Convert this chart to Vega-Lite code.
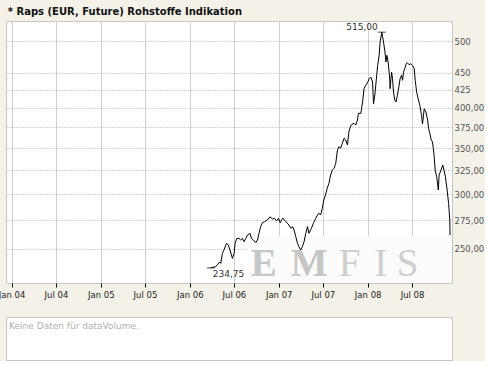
{
  "$schema": "https://vega.github.io/schema/vega-lite/v6.json",
  "background": "#f4f1e8",
  "padding": {"left": -3, "top": 6, "right": 0, "bottom": 0},
  "title": {"text": "* Raps (EUR, Future) Rohstoffe Indikation", "anchor": "start", "font": "DejaVu Sans", "fontSize": 10, "fontWeight": "bold", "color": "#111111", "offset": 4, "dx": 10},
  "config": {
    "view": {"stroke": "#c6c6c6", "fill": "#ffffff"},
    "font": "DejaVu Sans"
  },
  "bounds": "flush",
  "spacing": 34,
  "datasets": {
    "raps": [
      {"date": "2006-03-28", "value": 234.75},
      {"date": "2006-04-06", "value": 235.2},
      {"date": "2006-04-17", "value": 235.6},
      {"date": "2006-04-24", "value": 237.2},
      {"date": "2006-05-04", "value": 239.4},
      {"date": "2006-05-08", "value": 238.3},
      {"date": "2006-05-15", "value": 246.4},
      {"date": "2006-05-21", "value": 249.1},
      {"date": "2006-06-01", "value": 254.8},
      {"date": "2006-06-08", "value": 253.3},
      {"date": "2006-06-15", "value": 249.1},
      {"date": "2006-06-25", "value": 242.3},
      {"date": "2006-07-02", "value": 246.4},
      {"date": "2006-07-06", "value": 254.8},
      {"date": "2006-07-13", "value": 259.0},
      {"date": "2006-07-22", "value": 259.0},
      {"date": "2006-07-29", "value": 257.6},
      {"date": "2006-08-05", "value": 259.0},
      {"date": "2006-08-12", "value": 256.1},
      {"date": "2006-08-19", "value": 259.0},
      {"date": "2006-08-26", "value": 261.9},
      {"date": "2006-09-05", "value": 263.4},
      {"date": "2006-09-11", "value": 259.0},
      {"date": "2006-09-19", "value": 257.6},
      {"date": "2006-09-29", "value": 255.3},
      {"date": "2006-10-06", "value": 257.6},
      {"date": "2006-10-12", "value": 263.4},
      {"date": "2006-10-19", "value": 269.3},
      {"date": "2006-10-26", "value": 272.8},
      {"date": "2006-11-04", "value": 273.8},
      {"date": "2006-11-15", "value": 275.3},
      {"date": "2006-11-26", "value": 278.4},
      {"date": "2006-12-06", "value": 276.3},
      {"date": "2006-12-15", "value": 276.9},
      {"date": "2006-12-23", "value": 274.7},
      {"date": "2006-12-31", "value": 276.9},
      {"date": "2007-01-07", "value": 272.8},
      {"date": "2007-01-17", "value": 276.9},
      {"date": "2007-01-23", "value": 276.0},
      {"date": "2007-01-30", "value": 273.8},
      {"date": "2007-02-09", "value": 271.7},
      {"date": "2007-02-20", "value": 267.8},
      {"date": "2007-02-27", "value": 269.3},
      {"date": "2007-03-05", "value": 266.3},
      {"date": "2007-03-12", "value": 260.4},
      {"date": "2007-03-19", "value": 254.8},
      {"date": "2007-03-25", "value": 251.9},
      {"date": "2007-04-01", "value": 249.1},
      {"date": "2007-04-08", "value": 251.9},
      {"date": "2007-04-15", "value": 256.1},
      {"date": "2007-04-22", "value": 263.4},
      {"date": "2007-04-29", "value": 269.3},
      {"date": "2007-05-05", "value": 263.4},
      {"date": "2007-05-15", "value": 267.8},
      {"date": "2007-05-23", "value": 272.3},
      {"date": "2007-06-02", "value": 276.9},
      {"date": "2007-06-09", "value": 280.0},
      {"date": "2007-06-15", "value": 281.6},
      {"date": "2007-06-22", "value": 280.0},
      {"date": "2007-06-29", "value": 286.3},
      {"date": "2007-07-05", "value": 294.3},
      {"date": "2007-07-12", "value": 299.3},
      {"date": "2007-07-19", "value": 306.0},
      {"date": "2007-07-26", "value": 311.2},
      {"date": "2007-08-02", "value": 319.9},
      {"date": "2007-08-09", "value": 325.2},
      {"date": "2007-08-16", "value": 327.1},
      {"date": "2007-08-23", "value": 332.6},
      {"date": "2007-08-30", "value": 347.7},
      {"date": "2007-09-05", "value": 351.5},
      {"date": "2007-09-12", "value": 349.7},
      {"date": "2007-09-19", "value": 355.6},
      {"date": "2007-09-26", "value": 361.5},
      {"date": "2007-10-03", "value": 359.5},
      {"date": "2007-10-10", "value": 353.5},
      {"date": "2007-10-16", "value": 369.6},
      {"date": "2007-10-23", "value": 376.6},
      {"date": "2007-10-30", "value": 379.2},
      {"date": "2007-11-06", "value": 380.1},
      {"date": "2007-11-13", "value": 377.9},
      {"date": "2007-11-20", "value": 384.2},
      {"date": "2007-11-24", "value": 392.9},
      {"date": "2007-12-04", "value": 392.9},
      {"date": "2007-12-11", "value": 408.0},
      {"date": "2007-12-17", "value": 426.5},
      {"date": "2007-12-24", "value": 431.4},
      {"date": "2008-01-02", "value": 436.2},
      {"date": "2008-01-07", "value": 440.9},
      {"date": "2008-01-14", "value": 443.5},
      {"date": "2008-01-21", "value": 436.2},
      {"date": "2008-01-25", "value": 405.7},
      {"date": "2008-01-31", "value": 419.5},
      {"date": "2008-02-07", "value": 446.0},
      {"date": "2008-02-11", "value": 461.1},
      {"date": "2008-02-17", "value": 476.7},
      {"date": "2008-02-21", "value": 498.3},
      {"date": "2008-02-28", "value": 515.0},
      {"date": "2008-03-06", "value": 498.3},
      {"date": "2008-03-12", "value": 482.0},
      {"date": "2008-03-16", "value": 466.2},
      {"date": "2008-03-20", "value": 476.7},
      {"date": "2008-03-25", "value": 466.2},
      {"date": "2008-03-31", "value": 443.5},
      {"date": "2008-04-02", "value": 426.5},
      {"date": "2008-04-08", "value": 450.9},
      {"date": "2008-04-12", "value": 440.9},
      {"date": "2008-04-16", "value": 421.8},
      {"date": "2008-04-21", "value": 410.8},
      {"date": "2008-04-26", "value": 408.0},
      {"date": "2008-05-02", "value": 417.2},
      {"date": "2008-05-09", "value": 431.4},
      {"date": "2008-05-13", "value": 440.9},
      {"date": "2008-05-19", "value": 446.0},
      {"date": "2008-05-23", "value": 438.6},
      {"date": "2008-05-27", "value": 450.9},
      {"date": "2008-06-01", "value": 455.9},
      {"date": "2008-06-07", "value": 463.6},
      {"date": "2008-06-12", "value": 465.1},
      {"date": "2008-06-19", "value": 462.0},
      {"date": "2008-06-26", "value": 463.6},
      {"date": "2008-07-03", "value": 461.1},
      {"date": "2008-07-10", "value": 455.9},
      {"date": "2008-07-14", "value": 438.6},
      {"date": "2008-07-20", "value": 421.8},
      {"date": "2008-07-26", "value": 412.5},
      {"date": "2008-08-02", "value": 403.5},
      {"date": "2008-08-09", "value": 390.3},
      {"date": "2008-08-13", "value": 379.2},
      {"date": "2008-08-20", "value": 399.0},
      {"date": "2008-08-27", "value": 394.6},
      {"date": "2008-09-03", "value": 384.2},
      {"date": "2008-09-07", "value": 373.3},
      {"date": "2008-09-12", "value": 367.6},
      {"date": "2008-09-18", "value": 359.5},
      {"date": "2008-09-23", "value": 357.4},
      {"date": "2008-09-30", "value": 340.0},
      {"date": "2008-10-04", "value": 325.2},
      {"date": "2008-10-10", "value": 318.1},
      {"date": "2008-10-17", "value": 304.3},
      {"date": "2008-10-20", "value": 319.9},
      {"date": "2008-10-28", "value": 325.2},
      {"date": "2008-11-04", "value": 330.7},
      {"date": "2008-11-09", "value": 325.2},
      {"date": "2008-11-15", "value": 318.0},
      {"date": "2008-11-22", "value": 304.3},
      {"date": "2008-11-28", "value": 291.1},
      {"date": "2008-12-03", "value": 275.0},
      {"date": "2008-12-04", "value": 261.9}
    ],
    "extremes": [
      {"date": "2008-02-28", "value": 515.0, "label": "515,00", "kind": "max"},
      {"date": "2006-03-28", "value": 234.75, "label": "234,75", "kind": "min"}
    ],
    "volume": [
      {"msg": "Keine Daten für dataVolume."}
    ]
  },
  "vconcat": [
    {
      "width": 446,
      "height": 262,
      "layer": [
        {
          "data": {"name": "raps"},
          "mark": {"type": "line", "color": "#000000", "strokeWidth": 1, "opacity": 0},
          "encoding": {
            "x": {
              "field": "date", "type": "temporal",
              "scale": {"type": "utc", "nice": false, "domain": [{"year": 2003, "month": 12, "date": 9, "utc": true}, {"year": 2008, "month": 12, "date": 12, "utc": true}]},
              "axis": {
                "title": null,
                "values": [
                  {"year": 2004, "month": 1, "date": 1, "utc": true},
                  {"year": 2004, "month": 7, "date": 1, "utc": true},
                  {"year": 2005, "month": 1, "date": 1, "utc": true},
                  {"year": 2005, "month": 7, "date": 1, "utc": true},
                  {"year": 2006, "month": 1, "date": 1, "utc": true},
                  {"year": 2006, "month": 7, "date": 1, "utc": true},
                  {"year": 2007, "month": 1, "date": 1, "utc": true},
                  {"year": 2007, "month": 7, "date": 1, "utc": true},
                  {"year": 2008, "month": 1, "date": 1, "utc": true},
                  {"year": 2008, "month": 7, "date": 1, "utc": true}
                ],
                "labelExpr": "utcFormat(datum.value, '%b %y')",
                "grid": true, "gridColor": "#cfcfcf", "gridWidth": 1,
                "domain": false,
                "ticks": true, "tickColor": "#000000", "tickSize": 4, "tickWidth": 1,
                "labelFont": "DejaVu Sans", "labelFontSize": 8.5, "labelColor": "#222222",
                "labelPadding": 3, "labelFlush": false, "labelOverlap": false
              }
            },
            "y": {
              "field": "value", "type": "quantitative",
              "scale": {"type": "log", "nice": false, "domain": [223.2, 534.5]},
              "axis": {
                "title": null, "orient": "right",
                "values": [250, 275, 300, 325, 350, 375, 400, 425, 450, 500],
                "labelExpr": "datum.value >= 425 ? format(datum.value, 'd') : replace(format(datum.value, '.2f'), '.', ',')",
                "grid": true, "gridColor": "#a8a8a8", "gridDash": [1, 2], "gridWidth": 1,
                "domain": false, "ticks": false,
                "labelFont": "DejaVu Sans", "labelFontSize": 8.5, "labelColor": "#555555",
                "labelPadding": 2, "labelFlush": false, "labelOverlap": false
              }
            }
          }
        },
        {
          "data": {"values": [{}]},
          "mark": {"type": "rect", "fill": "#fbfbfb"},
          "encoding": {
            "x": {"datum": {"year": 2006, "month": 8, "date": 28, "utc": true}, "type": "temporal"},
            "x2": {"datum": {"year": 2008, "month": 12, "date": 12, "utc": true}},
            "y": {"datum": 261, "type": "quantitative"},
            "y2": {"datum": 223.2}
          }
        },
        {
          "data": {"values": [{}]},
          "mark": {"type": "text", "font": "Liberation Serif", "fontSize": 39, "fontWeight": "bold", "color": "#c6c6c6", "baseline": "alphabetic", "align": "center"},
          "encoding": {
            "x": {"datum": {"year": 2006, "month": 11, "date": 1, "utc": true}, "type": "temporal"},
            "y": {"datum": 228.4, "type": "quantitative"},
            "text": {"value": "E"}
          }
        },
        {
          "data": {"values": [{}]},
          "mark": {"type": "text", "font": "Liberation Serif", "fontSize": 39, "fontWeight": "bold", "color": "#c6c6c6", "baseline": "alphabetic", "align": "center"},
          "encoding": {
            "x": {"datum": {"year": 2007, "month": 5, "date": 6, "utc": true}, "type": "temporal"},
            "y": {"datum": 228.4, "type": "quantitative"},
            "text": {"value": "M"}
          }
        },
        {
          "data": {"values": [{}]},
          "mark": {"type": "text", "font": "Liberation Serif", "fontSize": 39, "color": "#cecece", "baseline": "alphabetic", "align": "center"},
          "encoding": {
            "x": {"datum": {"year": 2007, "month": 10, "date": 19, "utc": true}, "type": "temporal"},
            "y": {"datum": 228.4, "type": "quantitative"},
            "text": {"value": "F"}
          }
        },
        {
          "data": {"values": [{}]},
          "mark": {"type": "text", "font": "Liberation Serif", "fontSize": 39, "color": "#cecece", "baseline": "alphabetic", "align": "center"},
          "encoding": {
            "x": {"datum": {"year": 2008, "month": 2, "date": 24, "utc": true}, "type": "temporal"},
            "y": {"datum": 228.4, "type": "quantitative"},
            "text": {"value": "I"}
          }
        },
        {
          "data": {"values": [{}]},
          "mark": {"type": "text", "font": "Liberation Serif", "fontSize": 39, "color": "#cecece", "baseline": "alphabetic", "align": "center"},
          "encoding": {
            "x": {"datum": {"year": 2008, "month": 6, "date": 13, "utc": true}, "type": "temporal"},
            "y": {"datum": 228.4, "type": "quantitative"},
            "text": {"value": "S"}
          }
        },
        {
          "data": {"name": "raps"},
          "mark": {"type": "line", "color": "#000000", "strokeWidth": 1, "interpolate": "linear"},
          "encoding": {
            "x": {"field": "date", "type": "temporal"},
            "y": {"field": "value", "type": "quantitative"}
          }
        },
        {
          "data": {"name": "extremes"},
          "mark": {"type": "tick", "orient": "horizontal", "size": 8, "thickness": 1, "color": "#000000"},
          "encoding": {
            "x": {"field": "date", "type": "temporal"},
            "y": {"field": "value", "type": "quantitative"}
          }
        },
        {
          "data": {"name": "extremes"},
          "transform": [{"filter": "datum.kind == 'max'"}],
          "mark": {"type": "text", "align": "right", "baseline": "bottom", "dx": -4, "dy": 0, "font": "DejaVu Sans", "fontSize": 9, "color": "#333333"},
          "encoding": {
            "x": {"field": "date", "type": "temporal"},
            "y": {"field": "value", "type": "quantitative"},
            "text": {"field": "label"}
          }
        },
        {
          "data": {"name": "extremes"},
          "transform": [{"filter": "datum.kind == 'min'"}],
          "mark": {"type": "text", "align": "left", "baseline": "top", "dx": 2, "dy": 2, "font": "DejaVu Sans", "fontSize": 9, "color": "#333333"},
          "encoding": {
            "x": {"field": "date", "type": "temporal"},
            "y": {"field": "value", "type": "quantitative"},
            "text": {"field": "label"}
          }
        }
      ]
    },
    {
      "width": 446,
      "height": 43,
      "data": {"name": "volume"},
      "mark": {"type": "text", "align": "left", "baseline": "middle", "font": "DejaVu Sans", "fontSize": 9, "color": "#b0b0b0"},
      "encoding": {
        "x": {"datum": 0.7, "type": "quantitative", "scale": {"domain": [0, 100]}, "axis": null},
        "y": {"datum": 78, "type": "quantitative", "scale": {"domain": [0, 100]}, "axis": null},
        "text": {"field": "msg"}
      }
    }
  ]
}
